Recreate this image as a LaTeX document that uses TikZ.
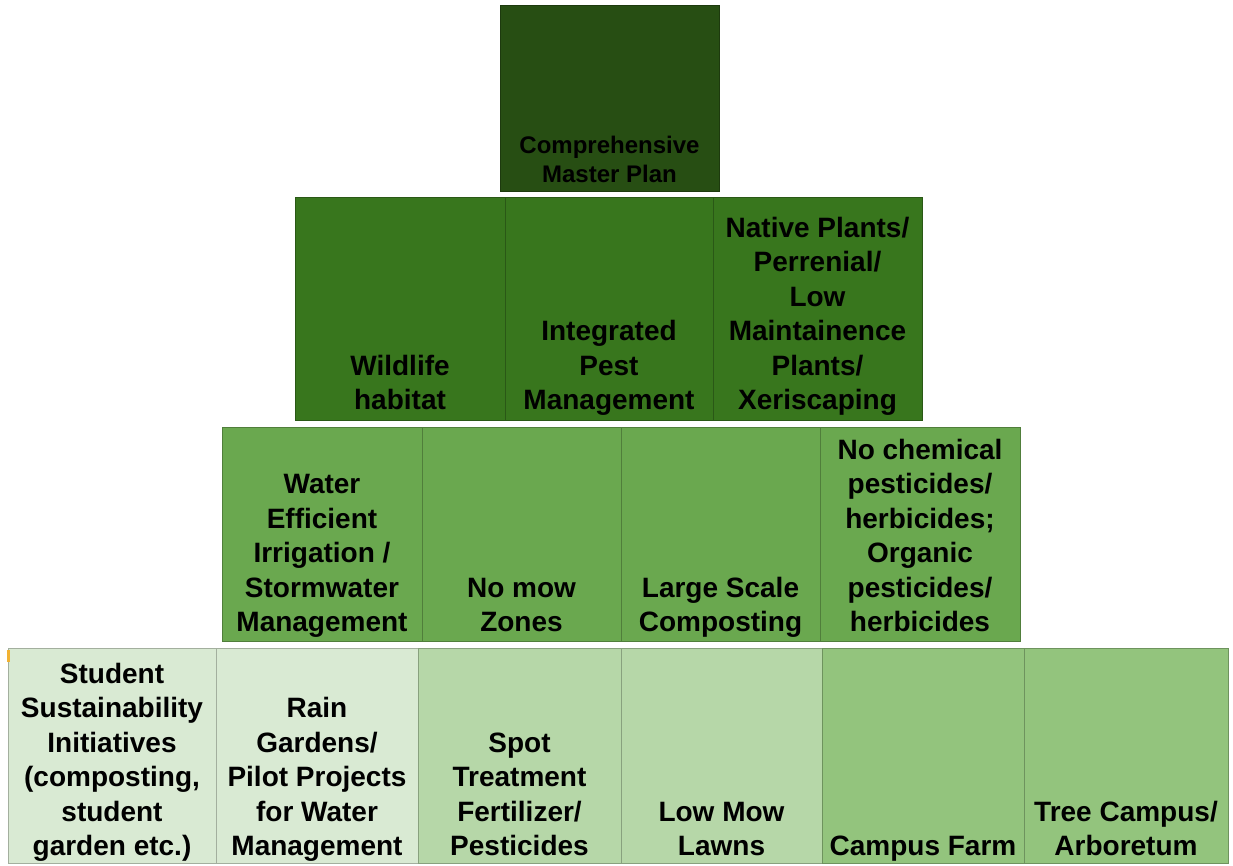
\documentclass[tikz,border=0pt]{standalone}
\usepackage{fontspec}
\setmainfont{Liberation Sans}
\definecolor{dg3}{HTML}{274E13}
\definecolor{dg2}{HTML}{38761D}
\definecolor{dg1}{HTML}{6AA84F}
\definecolor{lg1}{HTML}{93C47D}
\definecolor{lg2}{HTML}{B6D7A8}
\definecolor{lg3}{HTML}{D9EAD3}
\definecolor{orangemark}{HTML}{F2B233}
\tikzset{
  cell/.style={draw=#1!75!black, line width=0.8pt, fill=#1},
  lab/.style={anchor=south, align=center, inner sep=0pt, text depth=0pt,
    font=\fontsize{28}{34.5}\selectfont\bfseries},
  toplab/.style={anchor=south, align=center, inner sep=0pt, text depth=0pt,
    font=\fontsize{24}{29.5}\selectfont\bfseries},
}
\begin{document}
\begin{tikzpicture}[x=1pt,y=-1pt]
\useasboundingbox[fill=white] (0,0) rectangle (1233,865);
% top
\draw[cell=dg3] (500,5) rectangle (719,191);
\node[toplab] (t1) at (609.5,183) {Comprehensive\\Master Plan};
% row 2
\draw[cell=dg2] (295,197) rectangle (505,420);
\draw[cell=dg2] (505,197) rectangle (713,420);
\draw[cell=dg2] (713,197) rectangle (922,420);
\node[lab] (r2a) at (400,410) {Wildlife\\habitat};
\node[lab] (r2b) at (609,410) {Integrated\\Pest\\Management};
\node[lab] (r2c) at (817.5,410) {Native Plants/\\Perrenial/\\Low\\Maintainence\\Plants/\\Xeriscaping};
% row 3
\draw[cell=dg1] (222,427) rectangle (422,641);
\draw[cell=dg1] (422,427) rectangle (621,641);
\draw[cell=dg1] (621,427) rectangle (820,641);
\draw[cell=dg1] (820,427) rectangle (1020,641);
\node[lab] (r3a) at (322,632) {Water\\Efficient\\Irrigation /\\Stormwater\\Management};
\node[lab] (r3b) at (521.5,632) {No mow\\Zones};
\node[lab] (r3c) at (720.5,632) {Large Scale\\Composting};
\node[lab] (r3d) at (920,632) {No chemical\\pesticides/\\herbicides;\\Organic\\pesticides/\\herbicides};
% row 4
\draw[cell=lg3] (8,648) rectangle (216,863);
\draw[cell=lg3] (216,648) rectangle (418,863);
\draw[cell=lg2] (418,648) rectangle (621,863);
\draw[cell=lg2] (621,648) rectangle (822,863);
\draw[cell=lg1] (822,648) rectangle (1024,863);
\draw[cell=lg1] (1024,648) rectangle (1228,863);
\fill[orangemark] (7,650) rectangle (9.5,662);
\node[lab] (r4a) at (112,856) {Student\\Sustainability\\Initiatives\\(composting,\\student\\garden etc.)};
\node[lab] (r4b) at (317,856) {Rain\\Gardens/\\Pilot Projects\\for Water\\Management};
\node[lab] (r4c) at (519.5,856) {Spot\\Treatment\\Fertilizer/\\Pesticides};
\node[lab] (r4d) at (721.5,856) {Low Mow\\Lawns};
\node[lab] (r4e) at (923,856) {Campus Farm};
\node[lab] (r4f) at (1126,856) {Tree Campus/\\Arboretum};
\end{tikzpicture}
\end{document}
